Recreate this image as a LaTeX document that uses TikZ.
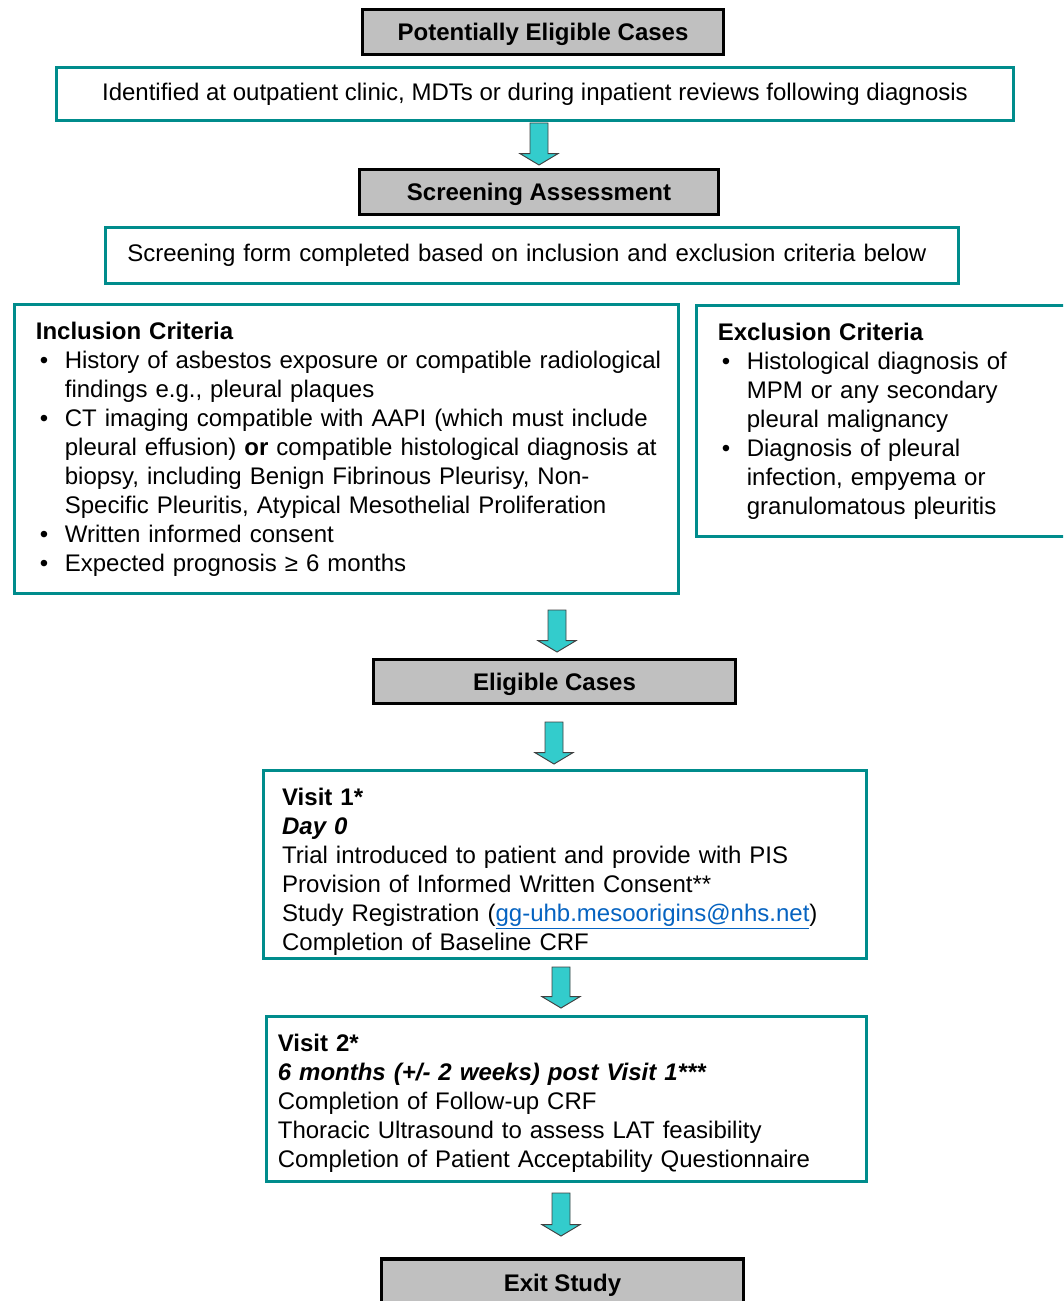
\documentclass[tikz,border=0pt]{standalone}
\usepackage{fontspec}
\setmainfont{Liberation Sans}
\usepackage{xcolor}
\usetikzlibrary{positioning,calc}
\definecolor{caseteal}{RGB}{0,140,140}
\definecolor{casegray}{RGB}{192,192,192}
\definecolor{casecyan}{RGB}{51,204,204}
\definecolor{caselink}{RGB}{5,99,193}
\newcommand{\casefont}{\fontsize{18}{21.75}\selectfont}
\newcommand{\critbullet}[1]{\mbox{\makebox[21.75pt][l]{\hspace{3pt}\textbullet}#1}}
\newcommand{\critcont}[1]{\mbox{\hspace*{21.75pt}#1}}
\tikzset{
    casetitle/.style={draw=black, line width=2.3pt, fill=casegray, align=center, font=\casefont\bfseries,
        inner sep=0pt, text height=13pt, text depth=0pt},
    casebox/.style={draw=caseteal, line width=2.3pt, fill=white, inner sep=0pt, font=\casefont},
    caseleft/.style={casebox, align=left},
    casearrow/.style={draw=black!75, line width=0.7pt, fill=casecyan, line join=miter,
        to path={let \p1=(\tikztostart), \p2=(\tikztotarget) in
            (\x1-6.75pt,\y1) -- (\x1+6.75pt,\y1) -- (\x1+6.75pt,\y2+8.5pt) -- (\x1+14.25pt,\y2+8.5pt)
            -- (\x1,\y2) -- (\x1-14.25pt,\y2+8.5pt) -- (\x1-6.75pt,\y2+8.5pt) -- cycle}}
}
\begin{document}
\begin{tikzpicture}[x=0.75pt, y=-0.75pt]
    \useasboundingbox (0,0) rectangle (1063,1301);
    \clip (0,0) rectangle (1063,1301);

    \node[casetitle, minimum width=270.75pt, minimum height=33.75pt] (potential) at (543,32) {Potentially Eligible Cases};
    \node[casebox, align=center, minimum width=717.75pt, minimum height=39.75pt] (identified) at (535,94)
        {Identified at outpatient clinic, MDTs or during inpatient reviews following diagnosis};
    \node[casetitle, minimum width=269.25pt, minimum height=33.75pt] (screening) at (539,192) {Screening Assessment};
    \node[caseleft, minimum width=639.75pt, minimum height=42pt, inner xsep=16pt, text width=607pt] (form) at (532,255.5)
        {\mbox{Screening form completed based on inclusion and exclusion criteria below}};

    \node[caseleft, minimum width=498pt, minimum height=216.75pt, inner xsep=16pt, text width=466pt] (inclusion) at (346.5,449)
        {\textbf{Inclusion Criteria}\\
         \critbullet{History of asbestos exposure or compatible radiological}\\
         \critcont{findings e.g., pleural plaques}\\
         \critbullet{CT imaging compatible with AAPI (which must include}\\
         \critcont{pleural effusion) \textbf{or} compatible histological diagnosis at}\\
         \critcont{biopsy, including Benign Fibrinous Pleurisy, Non-}\\
         \critcont{Specific Pleuritis, Atypical Mesothelial Proliferation}\\
         \critbullet{Written informed consent}\\
         \critbullet{Expected prognosis ≥ 6 months}};
    \node[caseleft, minimum width=282.75pt, minimum height=173.25pt, inner xsep=16pt, text width=250.75pt] (exclusion) at (885,421)
        {\textbf{Exclusion Criteria}\\
         \critbullet{Histological diagnosis of}\\
         \critcont{MPM or any secondary}\\
         \critcont{pleural malignancy}\\
         \critbullet{Diagnosis of pleural}\\
         \critcont{infection, empyema or}\\
         \critcont{granulomatous pleuritis}};

    \node[casetitle, minimum width=271.5pt, minimum height=33pt] (eligible) at (554.5,681.5) {Eligible Cases};

    \node[caseleft, minimum width=452.25pt, minimum height=141pt, inner xsep=14pt, text width=424.25pt] (visit1) at (565,864.5)
        {\rule{0pt}{23.4pt}\textbf{Visit 1*}\\
         \textbf{\itshape Day 0}\\
         Trial introduced to patient and provide with PIS\\
         Provision of Informed Written Consent**\\
         Study Registration (\textcolor{caselink}{\underline{gg-uhb.mesoorigins@nhs.net}})\\
         Completion of Baseline CRF};
    \node[caseleft, minimum width=450pt, minimum height=123.75pt, inner xsep=8.5pt, text width=433pt] (visit2) at (566.5,1099)
        {\rule{0pt}{18.9pt}\textbf{Visit 2*}\\
         \textbf{\itshape 6 months (+/- 2 weeks) post Visit 1***}\\
         Completion of Follow-up CRF\\
         Thoracic Ultrasound to assess LAT feasibility\\
         Completion of Patient Acceptability Questionnaire};

    \node[casetitle, minimum width=271.5pt, minimum height=36pt] (exit) at (562.5,1283) {Exit Study};

    % block arrows between the stages
    \coordinate (arrAtop) at (539,123);   \coordinate (arrAend) at (539,165);
    \coordinate (arrBtop) at (557,610);   \coordinate (arrBend) at (557,652);
    \coordinate (arrCtop) at (554,722);   \coordinate (arrCend) at (554,764);
    \coordinate (arrDtop) at (561,967);   \coordinate (arrDend) at (561,1008);
    \coordinate (arrEtop) at (561,1193);  \coordinate (arrEend) at (561,1236);

    \draw[casearrow] (arrAtop) to (arrAend);
    \draw[casearrow] (arrBtop) to (arrBend);
    \draw[casearrow] (arrCtop) to (arrCend);
    \draw[casearrow] (arrDtop) to (arrDend);
    \draw[casearrow] (arrEtop) to (arrEend);
\end{tikzpicture}
\end{document}
